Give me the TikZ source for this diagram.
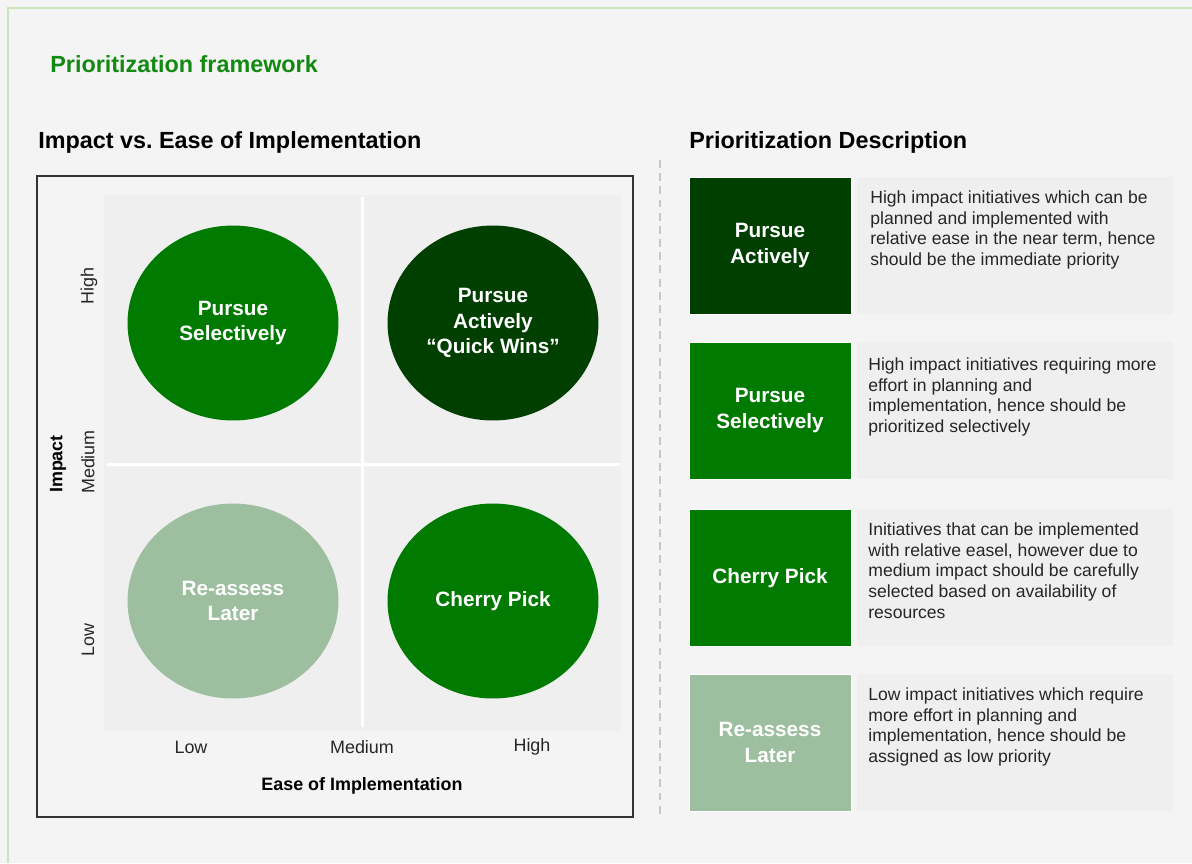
\documentclass[tikz,border=0pt]{standalone}
\usepackage{fontspec}
\setmainfont{Liberation Sans}
\usepackage{color}
\usepackage{tikz}
\usetikzlibrary{shapes.geometric}
\frenchspacing

\definecolor{bggray}{HTML}{F4F4F4}
\definecolor{quadgray}{HTML}{EFEFEF}
\definecolor{descgray}{HTML}{EFEFEF}
\definecolor{bordergreen}{HTML}{C9E3BD}
\definecolor{titlegreen}{HTML}{128A12}
\definecolor{darkgreen}{HTML}{003F00}
\definecolor{midgreen}{HTML}{007A00}
\definecolor{sage}{HTML}{9DBFA0}
\definecolor{textgray}{HTML}{262626}

\begin{document}
\begin{tikzpicture}[x=0.02cm,y=-0.02cm,
  head/.style={anchor=west,inner sep=0pt,font=\bfseries\fontsize{13.3}{15}\selectfont},
  blob/.style={ellipse,minimum width=4.22cm,minimum height=3.9cm,text=white,align=center,font=\bfseries\fontsize{11.8}{14.5}\selectfont},
  tick/.style={text=textgray,font=\fontsize{10.2}{12}\selectfont},
  tag/.style={rectangle,minimum width=3.24cm,minimum height=2.74cm,draw=white,text=white,align=center,font=\bfseries\fontsize{11.8}{14.5}\selectfont},
  descbox/.style={rectangle,fill=descgray,minimum width=6.32cm,minimum height=2.74cm},
  desctext/.style={anchor=north west,align=left,inner sep=0pt,text=textgray,font=\fontsize{10}{11.9}\selectfont}]
\fill [bggray] (0,0) rectangle (1192,863);
\useasboundingbox (0,0) rectangle (1192,863);
\draw [bordergreen,line width=1.2pt] (8,863) -- (8,8) -- (1192,8);

\node [head,text=titlegreen] (title) at (50,64) {Prioritization framework};
\node [head] (lhead) at (38,142) {Impact vs. Ease of Implementation};
\node [head] (rhead) at (689,142) {Prioritization Description};

% matrix
\draw [black!80,line width=0.6pt] (37,176) rectangle (633,817);
\fill [quadgray] (104,195) rectangle (621,731);
\draw [white,line width=1.7pt] (362,197) -- (362,727);
\draw [white,line width=1.7pt] (107,464) -- (620,464);

\node [blob,fill=midgreen] (sel) at (233,323) {Pursue\\Selectively};
\node [blob,fill=darkgreen] (qw) at (493,323) {Pursue\\Actively\\“Quick Wins”};
\node [blob,fill=sage] (later) at (233,601) {Re-assess\\Later};
\node [blob,fill=midgreen] (cherry) at (493,601) {Cherry Pick};

\node [tick,rotate=90] (yhigh) at (89,286) {High};
\node [tick,rotate=90] (ymed) at (88,462) {Medium};
\node [tick,rotate=90] (ylow) at (88,640) {Low};
\node [tick,rotate=90,text=black,font=\bfseries\fontsize{10.2}{12}\selectfont] (ylab) at (58,464) {Impact};
\node [tick] (xlow) at (191,747) {Low};
\node [tick] (xmed) at (362,747) {Medium};
\node [tick] (xhigh) at (532,747) {High};
\node [tick,text=black,font=\bfseries\fontsize{10.2}{12}\selectfont] (xlab) at (362,786) {Ease of Implementation};

% separator
\draw [black!22,line width=0.6pt,dash pattern=on 4.5pt off 3pt] (660,160) -- (660,817);

% descriptions
\node [tag,fill=darkgreen] (t1) at (770,245.5) {Pursue\\Actively};
\node [descbox] (d1) at (1015,245.5) {};
\node [desctext] (x1) at (870,190) {High impact initiatives which can be\\planned and implemented with\\relative ease in the near term, hence\\should be the immediate priority};

\node [tag,fill=midgreen] (t2) at (770,410.5) {Pursue\\Selectively};
\node [descbox] (d2) at (1015,410.5) {};
\node [desctext] (x2) at (868,357) {High impact initiatives requiring more\\effort in planning and\\implementation, hence should be\\prioritized selectively};

\node [tag,fill=midgreen] (t3) at (770,578) {Cherry Pick};
\node [descbox] (d3) at (1015,577) {};
\node [desctext] (x3) at (868,522) {Initiatives that can be implemented\\with relative easel, however due to\\medium impact should be carefully\\selected based on availability of\\resources};

\node [tag,fill=sage] (t4) at (770,742.5) {Re-assess\\Later};
\node [descbox] (d4) at (1015,742.5) {};
\node [desctext] (x4) at (868,687) {Low impact initiatives which require\\more effort in planning and\\implementation, hence should be\\assigned as low priority};
\end{tikzpicture}
\end{document}
